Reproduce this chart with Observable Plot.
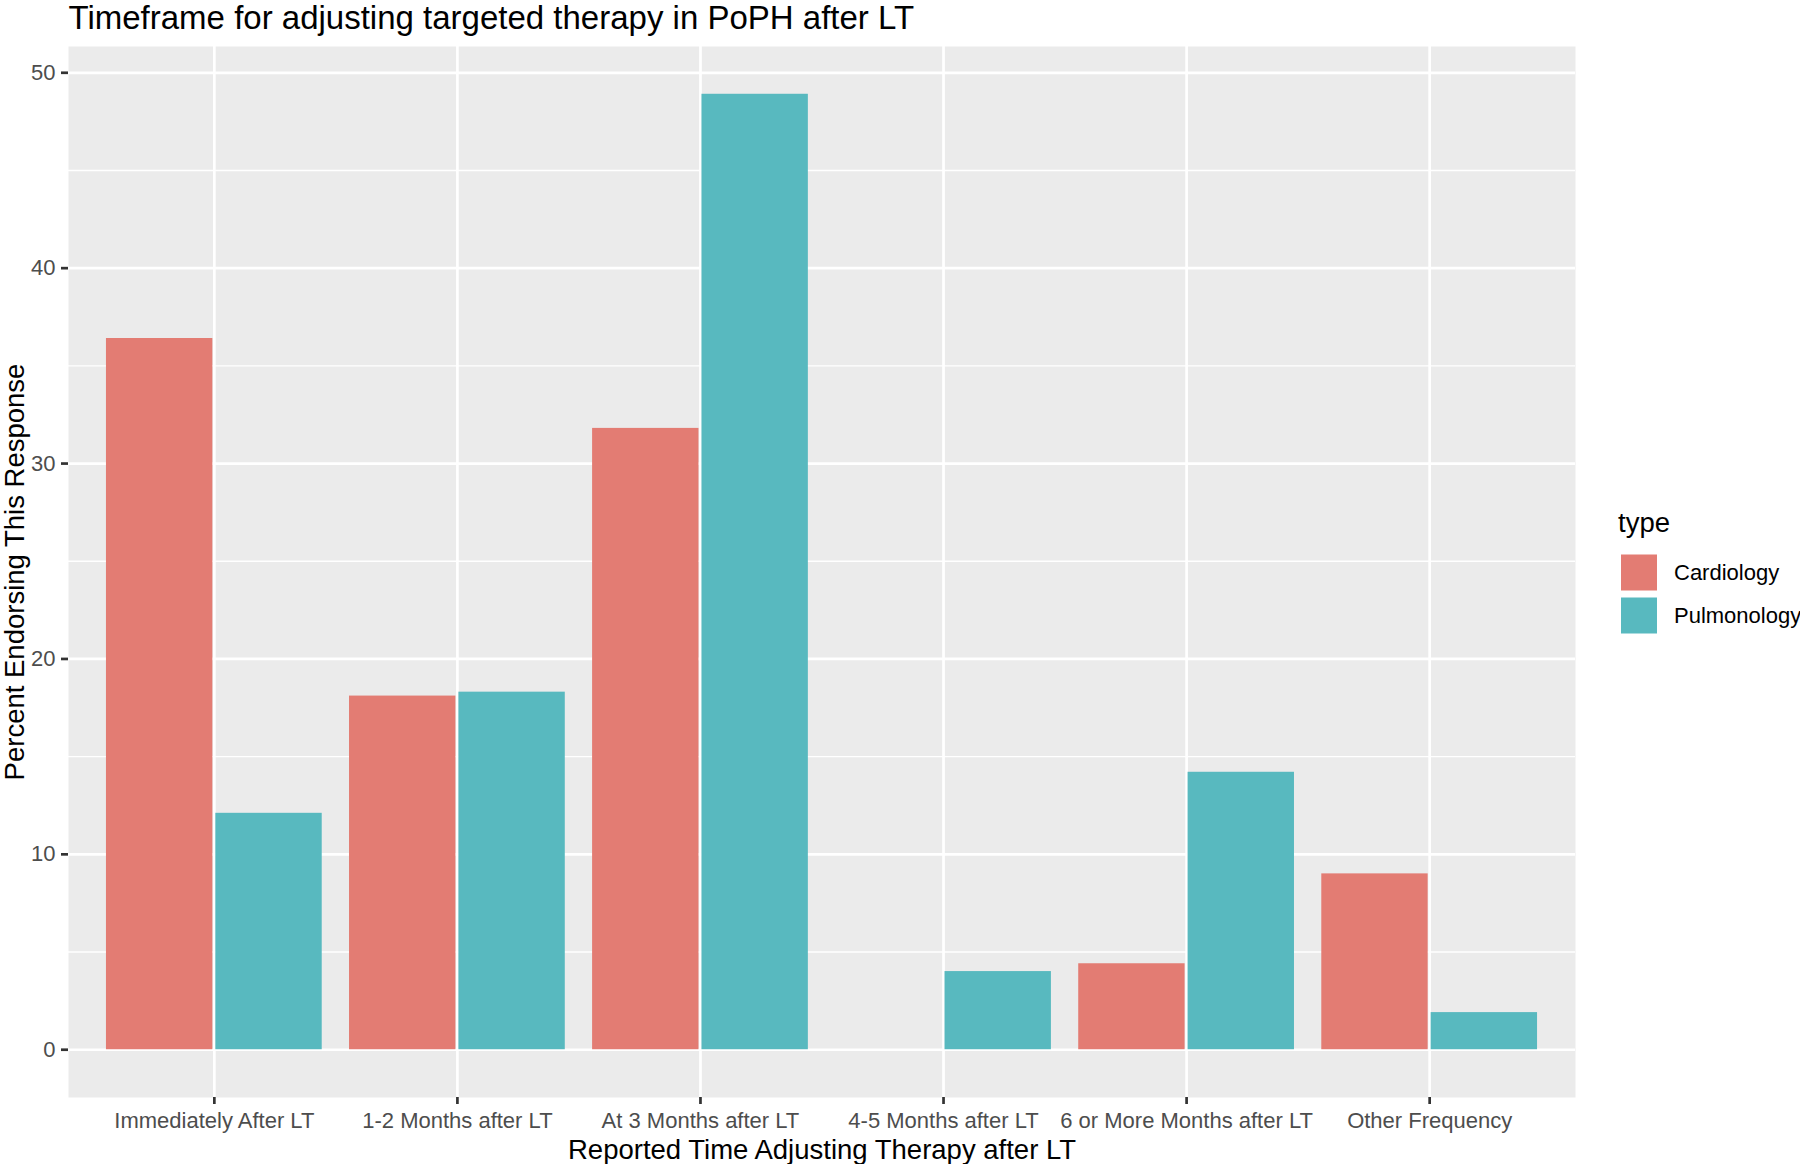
<!DOCTYPE html>
<html>
<head>
<meta charset="utf-8">
<script src="https://cdn.jsdelivr.net/npm/d3@7"></script>
<script src="https://cdn.jsdelivr.net/npm/@observablehq/plot@0.6"></script>
<style>
  html, body { margin: 0; padding: 0; background: #ffffff; }
  #wrap { position: relative; width: 1800px; height: 1164px; overflow: hidden; }
  #legend { position: absolute; left: 1600px; top: 490px; }
</style>
</head>
<body>
<div id="wrap"></div>
<script>
// ---- data ----
const chartTitle = "Timeframe for adjusting targeted therapy in PoPH after LT";
const xTitle = "Reported Time Adjusting Therapy after LT";
const yTitle = "Percent Endorsing This Response";
const legendTitle = "type";
const categories = ["Immediately After LT", "1-2 Months after LT", "At 3 Months after LT", "4-5 Months after LT", "6 or More Months after LT", "Other Frequency"];
const types = ["Cardiology", "Pulmonology"];
const cardiology = [36.4, 18.1, 31.8, 0, 4.4, 9.0];
const pulmonology = [12.1, 18.3, 48.9, 4.0, 14.2, 1.9];
const typeColors = ["#E37C73", "#58B9BF"];
const yTicks = [0, 10, 20, 30, 40, 50];
const yMinorTicks = [5, 15, 25, 35, 45];

// ---- table ----
const series = [cardiology, pulmonology];
const data = categories.flatMap((c, i) => types.map((t, k) => ({
  category: c, pos: i + 1, type: t, k, value: series[k][i]
})));
const catPos = categories.map((c, i) => i + 1);
const dodge = 0.9;           // total dodge width per category
const slot = dodge / types.length;
const yMax = d3.max(data, d => d.value);
const yExp = yMax * 0.05;

const font = "Arial, 'Liberation Sans', Helvetica, sans-serif";

const plot = Plot.plot({
  width: 1800,
  height: 1164,
  marginLeft: 68,
  marginRight: 225,
  marginTop: 46,
  marginBottom: 67,
  style: { fontFamily: font, background: "#ffffff", overflow: "visible" },
  x: { type: "linear", domain: [0.4, categories.length + 0.6], axis: null },
  y: { domain: [-yExp, yMax + yExp], axis: null },
  color: { domain: types, range: typeColors },
  marks: [
    Plot.frame({ fill: "#EBEBEB", stroke: null }),
    Plot.ruleY(yMinorTicks, { stroke: "#ffffff", strokeWidth: 1.4 }),
    Plot.ruleY(yTicks, { stroke: "#ffffff", strokeWidth: 2.7 }),
    Plot.ruleX(catPos, { stroke: "#ffffff", strokeWidth: 2.7 }),
    Plot.rect(data, {
      x1: d => d.pos - dodge / 2 + d.k * slot,
      x2: d => d.pos - dodge / 2 + (d.k + 1) * slot,
      y1: d => 0,
      y2: "value",
      fill: "type",
      insetLeft: 1.5,
      insetRight: 1.5
    }),
    Plot.axisY({
      ticks: yTicks, tickSize: 7, tickPadding: 6, fontSize: 22,
      fill: "#4D4D4D", stroke: "#333333", strokeWidth: 2.7, label: null
    }),
    Plot.axisX({
      ticks: catPos, tickFormat: i => categories[i - 1], tickSize: 7, tickPadding: 8,
      fontSize: 22, fill: "#4D4D4D", stroke: "#333333", strokeWidth: 2.7, label: null
    }),
    Plot.text([chartTitle], {
      frameAnchor: "top-left", textAnchor: "start", lineAnchor: "bottom",
      dy: -18, dx: 0, fontSize: 33, fill: "#000000"
    }),
    Plot.text([xTitle], {
      frameAnchor: "bottom", textAnchor: "middle", lineAnchor: "bottom",
      dy: 61, fontSize: 27.5, fill: "#000000"
    }),
    Plot.text([yTitle], {
      frameAnchor: "left", textAnchor: "middle", lineAnchor: "bottom",
      rotate: -90, dx: -45, fontSize: 27.5, fill: "#000000"
    })
  ]
});

const wrap = document.getElementById("wrap");
wrap.appendChild(plot);

// ---- legend (built from the plot's color scale) ----
const color = plot.scale("color");
const lg = d3.create("svg")
  .attr("id", "legend")
  .attr("width", 200)
  .attr("height", 170)
  .style("font-family", font);
lg.append("text")
  .attr("x", 18).attr("y", 42)
  .attr("font-size", 27.5).attr("fill", "#000")
  .text(legendTitle);
color.domain.forEach((t, i) => {
  const y0 = 61 + i * 43;
  lg.append("rect")
    .attr("x", 21).attr("y", y0 + 3.5)
    .attr("width", 36).attr("height", 36)
    .attr("fill", color.apply(t));
  lg.append("text")
    .attr("x", 74).attr("y", y0 + 21.5)
    .attr("dy", "0.36em")
    .attr("font-size", 22).attr("fill", "#000")
    .text(t);
});
wrap.appendChild(lg.node());
</script>
</body>
</html>
